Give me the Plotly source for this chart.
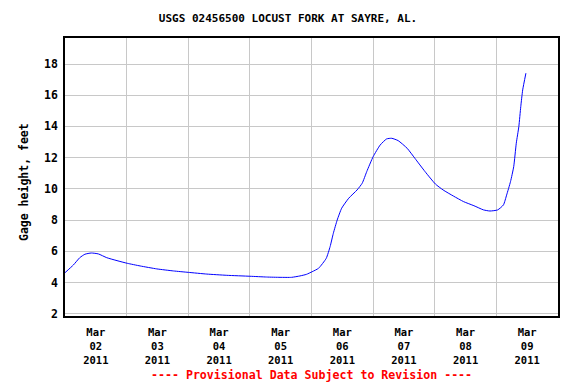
import plotly.graph_objects as go

times = [
    "2011-03-02 00:00", "2011-03-02 03:15", "2011-03-02 05:45", "2011-03-02 07:45",
    "2011-03-02 10:15", "2011-03-02 13:00", "2011-03-02 16:15", "2011-03-02 20:15",
    "2011-03-03 00:15", "2011-03-03 05:15", "2011-03-03 11:45", "2011-03-03 18:15",
    "2011-03-04 00:00", "2011-03-04 07:15", "2011-03-04 15:00", "2011-03-05 00:00",
    "2011-03-05 06:30", "2011-03-05 11:45", "2011-03-05 16:15", "2011-03-05 19:30",
    "2011-03-05 22:00", "2011-03-06 00:15", "2011-03-06 02:45", "2011-03-06 05:45",
    "2011-03-06 07:15", "2011-03-06 08:30", "2011-03-06 10:00", "2011-03-06 11:45",
    "2011-03-06 14:30", "2011-03-06 17:45", "2011-03-06 19:45", "2011-03-06 21:30",
    "2011-03-07 00:00", "2011-03-07 02:45", "2011-03-07 05:15", "2011-03-07 07:15",
    "2011-03-07 09:45", "2011-03-07 13:15", "2011-03-07 16:15", "2011-03-07 20:15",
    "2011-03-08 00:15", "2011-03-08 03:15", "2011-03-08 07:15", "2011-03-08 11:15",
    "2011-03-08 15:15", "2011-03-08 19:00", "2011-03-08 21:30", "2011-03-09 00:30",
    "2011-03-09 02:45", "2011-03-09 04:00", "2011-03-09 05:30", "2011-03-09 06:45",
    "2011-03-09 07:45", "2011-03-09 08:45", "2011-03-09 09:30", "2011-03-09 10:15",
    "2011-03-09 11:30",
]
gage_height = [
    4.63, 5.12, 5.59, 5.81,
    5.89, 5.83, 5.59, 5.40,
    5.23, 5.06, 4.87, 4.74,
    4.65, 4.54, 4.46, 4.40,
    4.35, 4.33, 4.33, 4.42,
    4.52, 4.69, 4.91, 5.55,
    6.30, 7.15, 8.00, 8.76,
    9.40, 9.93, 10.36, 11.10,
    12.06, 12.81, 13.20, 13.24,
    13.09, 12.60, 11.96, 11.10,
    10.31, 9.93, 9.54, 9.18,
    8.92, 8.65, 8.58, 8.65,
    8.97, 9.61, 10.46, 11.42,
    12.92, 13.99, 15.27, 16.34,
    17.41,
]

label_positions = ["2011-03-%02d 12:00" % d for d in range(2, 10)]
label_texts = ["Mar<br>%02d<br>2011" % d for d in range(2, 10)]
grid_days = ["2011-03-%02d 00:00" % d for d in range(3, 10)]
y_ticks = [2, 4, 6, 8, 10, 12, 14, 16, 18]

FONT = "DejaVu Sans Mono"

fig = go.Figure()
fig.add_trace(go.Scatter(
    x=times, y=gage_height, mode="lines",
    line=dict(color="#0000ff", width=1, shape="spline", smoothing=0.5),
    hoverinfo="skip", showlegend=False,
))

fig.update_layout(
    width=576, height=384,
    margin=dict(l=65, r=18, t=38, b=68, autoexpand=False),
    paper_bgcolor="white", plot_bgcolor="white",
    font=dict(family=FONT, size=11, color="black"),
    title=dict(
        text="<b>USGS 02456500 LOCUST FORK AT SAYRE, AL.</b>",
        x=0.5, xref="container", xanchor="center",
        y=1 - 18 / 384, yref="container", yanchor="middle",
        font=dict(family=FONT, size=11, color="black"),
    ),
    showlegend=False,
)

fig.update_xaxes(
    type="date", automargin=False,
    range=["2011-03-02 00:00", "2011-03-10 00:00"],
    tickmode="array", tickvals=label_positions,
    ticktext=["<b>%s</b>" % t.replace("<br>", "</b><br><b>") for t in label_texts],
    showgrid=False, ticks="", ticklen=0, ticklabelstandoff=6,
    tickfont=dict(family=FONT, size=10.5, color="black"),
    minor=dict(tickmode="array", tickvals=grid_days, showgrid=True, gridcolor="#c8c8c8", gridwidth=1, ticks=""),
    showline=True, linecolor="black", linewidth=1.5, mirror=True,
    zeroline=False,
)
fig.update_yaxes(
    automargin=False,
    range=[1.853, 19.666],
    tickmode="array", tickvals=y_ticks, ticktext=["<b>%d</b>" % v for v in y_ticks],
    showgrid=True, gridcolor="#c8c8c8", gridwidth=1,
    ticks="", ticklen=0, ticklabelstandoff=3,
    tickfont=dict(family=FONT, size=11.5, color="black"),
    showline=True, linecolor="black", linewidth=1.5, mirror=True,
    zeroline=False,
)

fig.add_annotation(
    text="<b>Gage height, feet</b>", textangle=-90,
    xref="paper", yref="paper", x=-(65 - 24) / 493, y=(316 - 182) / 278,
    xanchor="center", yanchor="middle", showarrow=False,
    font=dict(family=FONT, size=11.5, color="black"),
)

fig.add_annotation(
    text="<b>---- Provisional Data Subject to Revision ----</b>",
    xref="paper", yref="paper", x=0.5, y=-(375 - 316) / 278, xanchor="center", yanchor="middle",
    showarrow=False, font=dict(family=FONT, size=11.6, color="#ff0000"),
)

fig.write_html("out.html", config={"displayModeBar": False},
               post_script="document.body.style.margin='0';")
